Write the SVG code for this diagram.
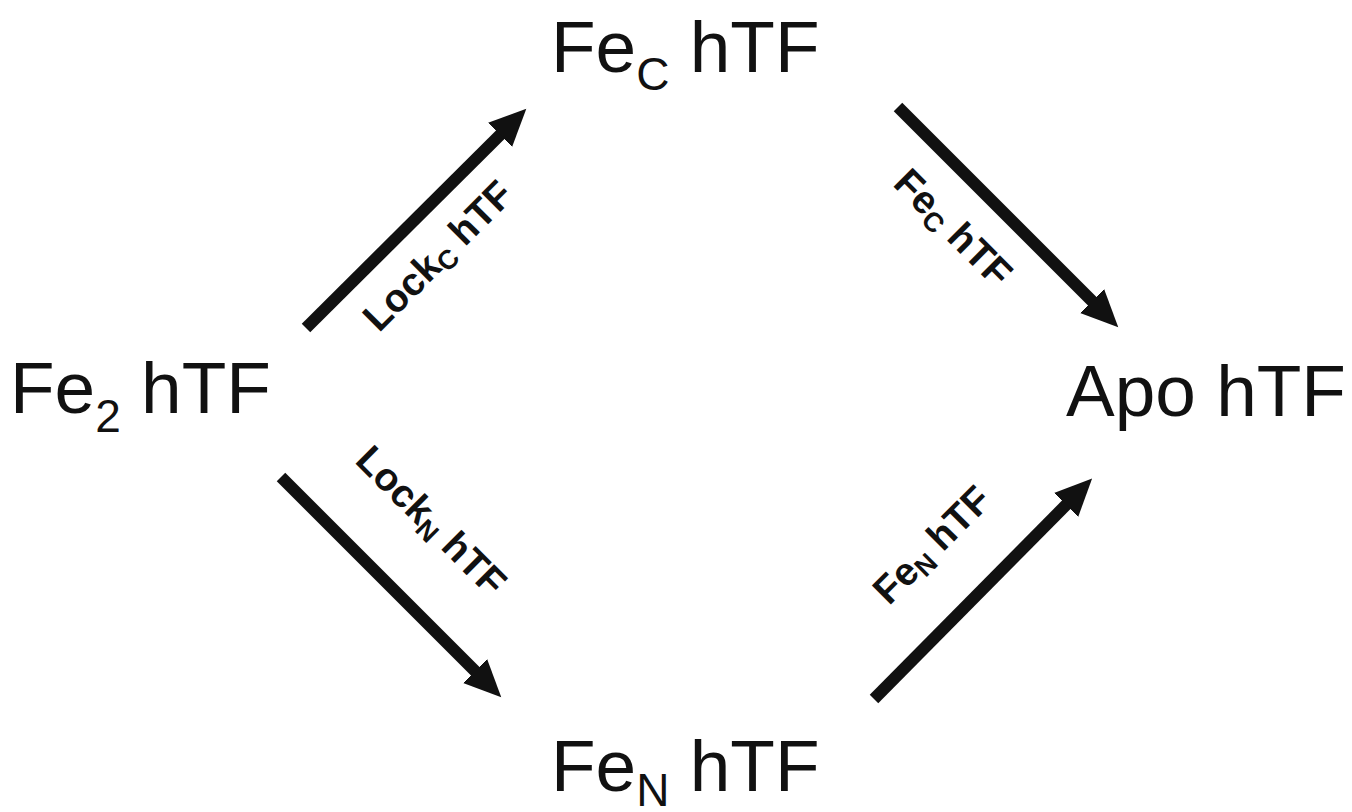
<svg xmlns="http://www.w3.org/2000/svg" width="1352" height="812" viewBox="0 0 1352 812">
  <style>
    .node { font-family: "Liberation Sans", Arial, sans-serif; font-size: 73px; fill: #111; }
    .sub { font-size: 46px; }
    .lbl { font-family: "Liberation Sans", Arial, sans-serif; font-size: 39px; font-weight: bold; fill: #111; text-anchor: middle; }
    .lsub { font-size: 27px; }
    .arrow { stroke: #111; stroke-width: 12; fill: none; marker-end: url(#head); }
  </style>
  <defs>
    <marker id="head" markerUnits="userSpaceOnUse" markerWidth="40" markerHeight="40" refX="2" refY="18" orient="auto">
      <path d="M0,1 L37,18 L0,35 Z" fill="#111"/>
    </marker>
  </defs>
  <rect width="1352" height="812" fill="#fff"/>

  <!-- species -->
  <g id="fe2">
    <text class="node" x="10" y="413">Fe<tspan class="sub" dy="19">2</tspan><tspan dy="-19"> hTF</tspan></text>
  </g>
  <g id="fec">
    <text class="node" x="551" y="72">Fe<tspan class="sub" dy="18">C</tspan><tspan dy="-18"> hTF</tspan></text>
  </g>
  <g id="fen">
    <text class="node" x="551" y="791">Fe<tspan class="sub" dy="15">N</tspan><tspan dy="-15"> hTF</tspan></text>
  </g>
  <g id="apo">
    <text class="node" x="1066" y="416">Apo hTF</text>
  </g>

  <!-- pathways -->
  <g id="connectors">
    <line class="arrow" x1="306" y1="328" x2="501.5" y2="133.5"/>
    <line class="arrow" x1="898" y1="107" x2="1093.5" y2="302.5"/>
    <line class="arrow" x1="281" y1="477" x2="476.5" y2="672.5"/>
    <line class="arrow" x1="874" y1="699" x2="1067.5" y2="503.5"/>
  </g>

  <g id="labels">
    <text class="lbl" transform="translate(438,256) rotate(-45)" y="13">Lock<tspan class="lsub" dy="6">C</tspan><tspan dy="-6"> hTF</tspan></text>
    <text class="lbl" transform="translate(953,228) rotate(45)" y="13">Fe<tspan class="lsub" dy="6">C</tspan><tspan dy="-6"> hTF</tspan></text>
    <text class="lbl" transform="translate(431,521) rotate(45)" y="13">Lock<tspan class="lsub" dy="6">N</tspan><tspan dy="-6"> hTF</tspan></text>
    <text class="lbl" transform="translate(932,545) rotate(-45)" y="13">Fe<tspan class="lsub" dy="6">N</tspan><tspan dy="-6"> hTF</tspan></text>
  </g>
</svg>
